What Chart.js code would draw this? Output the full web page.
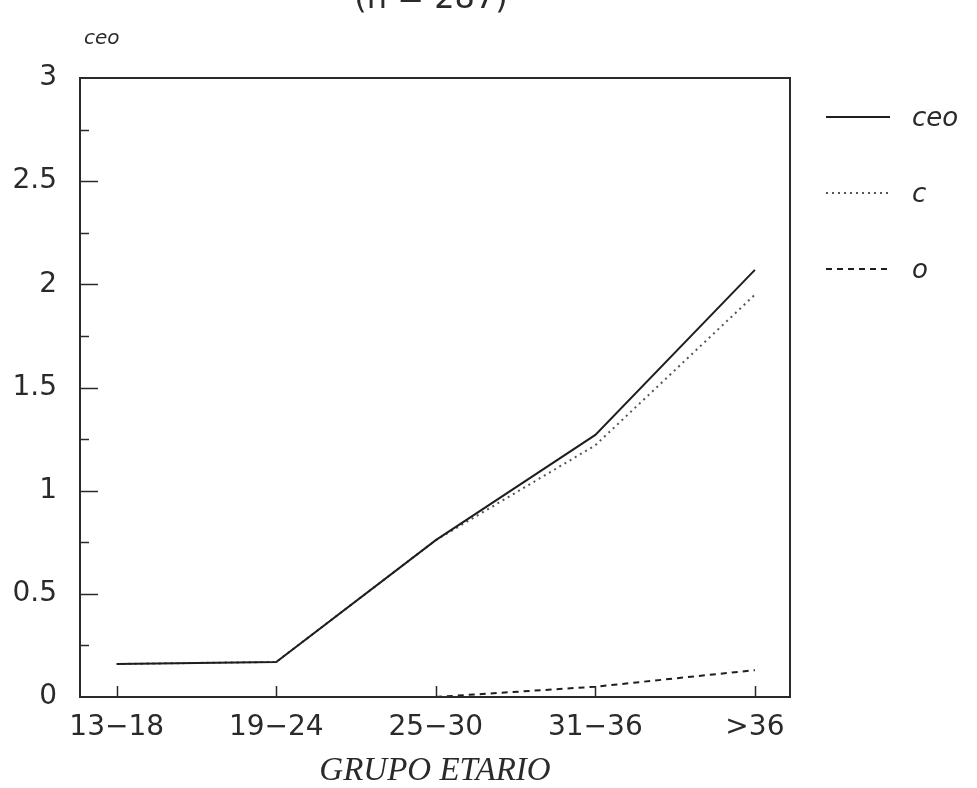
<!DOCTYPE html>
<html>
<head>
<meta charset="utf-8">
<script src="https://cdn.jsdelivr.net/npm/chart.js@4/dist/chart.umd.min.js"></script>
<style>
  html, body { margin: 0; padding: 0; background: #fff; }
  #wrap { width: 977px; height: 788px; }
</style>
</head>
<body>
<div id="wrap"><canvas id="myChart" width="977" height="788"></canvas></div>
<script>
// age groups and values
const groups = ['13\u221218', '19\u221224', '25\u221230', '31\u221236', '>36'];
const ceoValues = [0.16, 0.17, 0.76, 1.27, 2.07];
const cValues = [0.16, 0.17, 0.76, 1.22, 1.95];
const oValues = [null, null, 0, 0.05, 0.13];
const yLabelTicks = [0, 0.5, 1, 1.5, 2, 2.5, 3];

const ink = '#2a2a2a';
const sansFont = '"DejaVu Sans", sans-serif';

function toPoints(values) {
  return values.map(function (v, i) { return { x: i, y: v }; });
}

// frame, inward ticks, legend and loose texts
const framePlugin = {
  id: 'frame',
  afterDraw: function (chart) {
    const ctx = chart.ctx;
    const area = chart.chartArea;
    const xs = chart.scales.x;
    const ys = chart.scales.y;
    ctx.save();
    ctx.strokeStyle = ink;
    ctx.lineWidth = 2;
    ctx.setLineDash([]);
    ctx.strokeRect(area.left, area.top, area.right - area.left, area.bottom - area.top);

    // y ticks: long at every 0.5, short in between
    ctx.lineWidth = 1.5;
    for (let k = 1; k < 12; k++) {
      const v = k * 0.25;
      const py = Math.round(ys.getPixelForValue(v)) + 0.5;
      const len = (k % 2 === 0) ? 18 : 9;
      ctx.beginPath();
      ctx.moveTo(area.left, py);
      ctx.lineTo(area.left + len, py);
      ctx.stroke();
    }
    // x ticks at each group
    groups.forEach(function (g, i) {
      const px = Math.round(xs.getPixelForValue(i)) + 0.5;
      ctx.beginPath();
      ctx.moveTo(px, area.bottom);
      ctx.lineTo(px, area.bottom - 11);
      ctx.stroke();
    });

    // legend
    const legendX = 826, legendW = 64, textX = 912;
    const rows = [117, 193, 269];
    chart.data.datasets.forEach(function (ds, i) {
      const y = rows[i];
      ctx.strokeStyle = ds.borderColor;
      ctx.lineWidth = ds.borderWidth;
      ctx.setLineDash(ds.borderDash || []);
      ctx.beginPath();
      ctx.moveTo(legendX, y);
      ctx.lineTo(legendX + legendW, y);
      ctx.stroke();
      ctx.setLineDash([]);
      ctx.fillStyle = ink;
      ctx.font = 'italic 26px ' + sansFont;
      ctx.textBaseline = 'middle';
      ctx.textAlign = 'left';
      ctx.fillText(ds.label, textX, y + 2);
    });

    // y title at top left
    ctx.fillStyle = ink;
    ctx.font = 'italic 20px ' + sansFont;
    ctx.textAlign = 'left';
    ctx.textBaseline = 'middle';
    ctx.fillText('ceo', 84, 39);

    // top title, cut off by the page edge
    ctx.font = '32px ' + sansFont;
    ctx.textAlign = 'center';
    ctx.textBaseline = 'alphabetic';
    ctx.fillText('(n = 287)', 431, 8);
    ctx.restore();
  }
};

const config = {
  type: 'line',
  data: {
    datasets: [{
      label: 'ceo',
      data: toPoints(ceoValues),
      borderColor: '#1e1e1e',
      borderWidth: 2,
      pointRadius: 0,
      tension: 0
    }, {
      label: 'c',
      data: toPoints(cValues),
      borderColor: '#555',
      borderWidth: 2,
      borderDash: [2, 4],
      pointRadius: 0,
      tension: 0
    }, {
      label: 'o',
      data: toPoints(oValues),
      borderColor: '#1e1e1e',
      borderWidth: 2,
      borderDash: [6, 5],
      pointRadius: 0,
      tension: 0,
      spanGaps: false
    }]
  },
  options: {
    responsive: false,
    animation: false,
    layout: { padding: { top: 78, right: 187, left: 0, bottom: 0 } },
    plugins: {
      legend: { display: false },
      tooltip: { enabled: false }
    },
    scales: {
      x: {
        type: 'linear',
        min: -0.23,
        max: 4.22,
        afterFit: function (scale) { scale.height = 91; },
        afterBuildTicks: function (scale) {
          scale.ticks = groups.map(function (g, i) { return { value: i }; });
        },
        ticks: {
          autoSkip: false,
          maxRotation: 0,
          padding: 14,
          color: ink,
          font: { family: sansFont, size: 28 },
          callback: function (v) { return groups[v]; }
        },
        grid: { display: false, drawTicks: false },
        border: { display: false },
        title: {
          display: true,
          text: 'GRUPO ETARIO',
          color: ink,
          font: { family: '"Liberation Serif", serif', style: 'italic', size: 33, lineHeight: 1 },
          padding: { top: 0, bottom: 0 }
        }
      },
      y: {
        min: 0,
        max: 3,
        afterFit: function (scale) { scale.width = 80; },
        afterBuildTicks: function (scale) {
          scale.ticks = yLabelTicks.map(function (v) { return { value: v }; });
        },
        ticks: {
          padding: 23,
          color: ink,
          font: { family: sansFont, size: 28 },
          callback: function (v) { return String(v); }
        },
        grid: { display: false, drawTicks: false },
        border: { display: false }
      }
    }
  },
  plugins: [framePlugin]
};

const myChart = new Chart(document.getElementById('myChart'), config);
</script>
</body>
</html>
